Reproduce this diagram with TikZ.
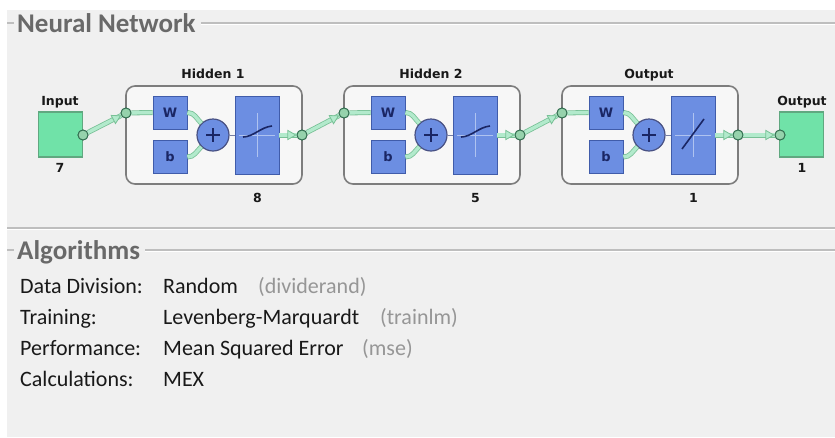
\documentclass[tikz,border=0pt]{standalone}
\usepackage{fontspec}
\setmainfont{Carlito}
\newfontfamily\labelfont{DejaVu Sans}
\usetikzlibrary{shapes.geometric,calc}

\definecolor{panelbg}{RGB}{240,240,240}
\definecolor{ruleline}{RGB}{190,190,190}
\definecolor{headgray}{RGB}{105,105,105}
\definecolor{textdark}{RGB}{25,25,25}
\definecolor{textgray}{RGB}{150,150,150}
\definecolor{mint}{RGB}{112,226,168}
\definecolor{mintedge}{RGB}{96,168,128}
\definecolor{blockblue}{RGB}{108,142,226}
\definecolor{blockedge}{RGB}{64,92,170}
\definecolor{navy}{RGB}{26,38,100}
\definecolor{layerfill}{RGB}{247,247,247}
\definecolor{layeredge}{RGB}{125,125,125}
\definecolor{confill}{RGB}{178,234,204}
\definecolor{conedge}{RGB}{120,192,150}
\definecolor{portfill}{RGB}{150,210,172}
\definecolor{portedge}{RGB}{50,110,80}
\definecolor{axisline}{RGB}{175,195,240}

\tikzset{
  heading/.style={font=\fontsize{27}{31}\selectfont\bfseries, text=headgray, anchor=base west, inner sep=0},
  bodytext/.style={font=\fontsize{22}{26}\selectfont, text=textdark, anchor=base west, inner sep=0},
  graytext/.style={font=\fontsize{22}{26}\selectfont, text=textgray, anchor=base west, inner sep=0},
  smalllabel/.style={font=\labelfont\bfseries\fontsize{12.5}{14}\selectfont, text=textdark, inner sep=0},
  iobox/.style={draw=mintedge, fill=mint, line width=1.2pt, minimum width=44pt, minimum height=45pt, inner sep=0},
  layerbox/.style={draw=layeredge, fill=layerfill, line width=1.6pt, rounded corners=9pt, minimum width=176pt, minimum height=98pt, inner sep=0},
  wbbox/.style={draw=blockedge, fill=blockblue, line width=0.9pt, minimum width=34pt, minimum height=33pt, inner sep=0, font=\labelfont\bfseries\fontsize{13}{14}\selectfont, text=navy},
  tfbox/.style={draw=blockedge, fill=blockblue, line width=0.9pt, minimum width=44pt, minimum height=78pt, inner sep=0},
  sumnode/.style={circle, draw=navy!80, fill=blockblue, line width=1.2pt, minimum size=32pt, inner sep=0},
  port/.style={circle, draw=portedge, fill=portfill, line width=0.9pt, minimum size=10pt, inner sep=0},
  conn/.style={draw=conedge, line width=0.8pt, double=confill, double distance=3.4pt},
  arrowhd/.style={isosceles triangle, isosceles triangle apex angle=60, draw=conedge, fill=confill, line width=0.8pt, minimum height=8pt, minimum width=8pt, inner sep=0, sloped, anchor=apex},
  thinlink/.style={draw=navy!60, line width=0.8pt},
  curve/.style={draw=navy, line width=1.6pt},
  axis/.style={draw=axisline, line width=0.7pt},
}

\begin{document}
\begin{tikzpicture}[x=1pt,y=-1pt]
  % canvas and panel background
  \fill[white] (0,0) rectangle (835,437);
  \fill[panelbg] (7,10) rectangle (835,437);
  \useasboundingbox (0,0) rectangle (835,437);

  % section heading: network
  \node[heading] (nnhead) at (17,32) {Neural Network};
  \draw[ruleline, line width=1.2pt] (7,23) -- (14,23);
  \draw[ruleline, line width=1.2pt] (nnhead.east |- 0,23) ++(5,0) -- (835,23);
  \draw[white, line width=1pt] (nnhead.east |- 0,24.6) ++(5,0) -- (835,24.6);

  % input block
  \node[iobox] (inbox) at (60.5,134.5) {};
  \node[smalllabel, anchor=base] (inlbl) at (60,105) {Input};
  \node[smalllabel, anchor=base] (innum) at (60,172) {7};
  \node[port] (inport) at (83,135) {};

  % the three layers: offset, name, size
  \foreach \o/\nm/\title/\size in {126/A/Hidden 1/8, 344/B/Hidden 2/5, 562/C/Output/1} {
    \node[layerbox] (box\nm) at (\o+88,135) {};
    \node[smalllabel, anchor=base] (title\nm) at (\o+87,78) {\title};
    \node[wbbox] (w\nm) at (\o+44,112.5) {W};
    \node[wbbox] (b\nm) at (\o+44,157) {b};
    \node[sumnode] (sum\nm) at (\o+87,135) {};
    \node[tfbox] (tf\nm) at (\o+131,135) {};
    \node[smalllabel, anchor=base] (size\nm) at (\o+131.5,202) {\size};
    \node[port] (pin\nm) at (\o,113) {};
    \node[port] (pout\nm) at (\o+176,135) {};
    % plus sign inside the summing junction
    \draw[navy, line width=1.5pt] ($(sum\nm)+(-7,0)$) -- ($(sum\nm)+(7,0)$);
    \draw[navy, line width=1.5pt] ($(sum\nm)+(0,-7)$) -- ($(sum\nm)+(0,7)$);
    % axes of the transfer plot
    \draw[axis] ($(tf\nm)+(-18,0)$) -- ($(tf\nm)+(18,0)$);
    \draw[axis] ($(tf\nm)+(0,-22)$) -- ($(tf\nm)+(0,22)$);
    % signal paths inside the layer
    \draw[conn] (pin\nm) -- (w\nm.west);
    \draw[conn] (w\nm.east) to[out=0,in=135] (sum\nm.north west);
    \draw[conn] (b\nm.east) to[out=0,in=-135] (sum\nm.south west);
    \draw[thinlink] (sum\nm.east) -- (tf\nm.west);
    \draw[conn] (tf\nm.east) -- (pout\nm) node[arrowhd, pos=1] {};
  }

  % transfer curves: two tansig, one linear
  \draw[curve] ($(tfA)+(-14,2)$) .. controls ($(tfA)+(-4,2)$) and ($(tfA)+(4,-8)$) .. ($(tfA)+(15,-9)$);
  \draw[curve] ($(tfB)+(-14,2)$) .. controls ($(tfB)+(-4,2)$) and ($(tfB)+(4,-8)$) .. ($(tfB)+(15,-9)$);
  \draw[curve] ($(tfC)+(-11,14)$) -- ($(tfC)+(11,-16)$);

  % output block
  \node[iobox] (outbox) at (801.5,134.5) {};
  \node[smalllabel, anchor=base] (outlbl) at (802,105) {Output};
  \node[smalllabel, anchor=base] (outnum) at (802,172) {1};
  \node[port] (outport) at (780,135) {};

  % connections between blocks
  \draw[conn] (inport) -- (pinA) node[arrowhd, pos=1] {};
  \draw[conn] (poutA) -- (pinB) node[arrowhd, pos=1] {};
  \draw[conn] (poutB) -- (pinC) node[arrowhd, pos=1] {};
  \draw[conn] (poutC) -- (outport) node[arrowhd, pos=1] {};
  % ports on top of the wires
  \foreach \p in {inport,pinA,poutA,pinB,poutB,pinC,poutC,outport}
    \node[port] at (\p) {};

  % separator between sections
  \draw[ruleline, line width=1.2pt] (7,228) -- (835,228);
  \draw[white, line width=1pt] (7,229.6) -- (835,229.6);

  % section heading: algorithms
  \node[heading] (alhead) at (17,259) {Algorithms};
  \draw[ruleline, line width=1.2pt] (7,250) -- (14,250);
  \draw[ruleline, line width=1.2pt] (alhead.east |- 0,250) ++(5,0) -- (835,250);
  \draw[white, line width=1pt] (alhead.east |- 0,251.6) ++(5,0) -- (835,251.6);

  % algorithm settings
  \node[bodytext] (k1) at (20,293) {Data Division:};
  \node[bodytext] (v1) at (163,293) {Random};
  \node[graytext] (p1) at (258,293) {(dividerand)};
  \node[bodytext] (k2) at (20,324) {Training:};
  \node[bodytext] (v2) at (163,324) {Levenberg-Marquardt};
  \node[graytext] (p2) at (380,324) {(trainlm)};
  \node[bodytext] (k3) at (20,355) {Performance:};
  \node[bodytext] (v3) at (163,355) {Mean Squared Error};
  \node[graytext] (p3) at (362,355) {(mse)};
  \node[bodytext] (k4) at (20,386) {Calculations:};
  \node[bodytext] (v4) at (163,386) {MEX};
\end{tikzpicture}
\end{document}
